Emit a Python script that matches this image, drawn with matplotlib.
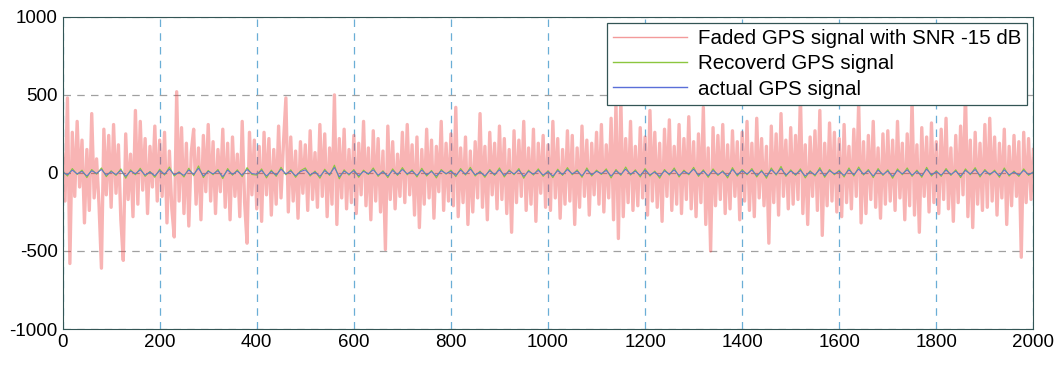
import numpy as np
import matplotlib.pyplot as plt

# sample index (at a coarse step)
x_faded = np.arange(0, 2001, 5)
x_clean = np.arange(0, 2001, 10)

faded = [
    120, -180, 480, -580, 260, -150, 330, -90, 210, -320, 150, -240, 380, -160, 90, -200, -610, 280, -140, 240,
    -220, 310, -130, 180, -300, -560, 250, -170, 120, -280, 400, -200, 330, -110, 220, -260, 170, -90, 300, -180,
    210, -150, 260, -320, 140, -230, -410, 520, -180, 290, -260, 190, -340, 130, 280, -200, 160, -300, 240, -120,
    310, -180, 200, -260, 150, -120, 280, -220, 190, -300, 230, -150, 120, -280, 330, -190, -450, 260, -140, 210,
    -230, 170, -310, 260, -140, 220, -270, 150, -200, 300, -160, 190, 480, -250, 230, -180, 140, -290, 200, -130,
    180, -240, 270, -170, 130, -220, 310, -150, 250, -280, 160, -200, 500, -330, 220, -160, 280, -230, 150, -190,
    240, -260, 190, -140, 330, -210, 160, -300, 270, -180, 220, -250, 140, -490, 300, -170, 200, -230, 120, -150,
    260, -190, 310, -140, 180, -270, 230, -350, 150, -200, 280, -160, 210, -290, 170, -120, 330, -240, 190, -180,
    250, -210, 420, -280, 160, -190, 230, -330, 140, -250, 200, -160, 380, -220, 170, -300, 260, -140, 190, -230,
    300, -170, 220, -260, 150, -380, 270, -190, 210, -150, 330, -240, 160, -200, 280, -310, 190, -130, 240, -220,
    180, -240, 330, -160, 220, -290, 150, -200, 270, -180, 240, -330, 160, -220, 300, -150, 210, -270, 190, -140,
    260, -200, 310, -250, 180, -160, 350, -300, 450, -420, 480, -280, 220, -190, 330, -240, 170, -210, 290, -160,
    230, -270, 400, -180, 260, -220, 190, -310, 280, -150, 340, -240, 170, -200, 310, -260, 220, -170, 360, -230,
    200, -280, 250, -190, 420, -330, 160, -500, 290, -210, 240, -170, 310, -260, 180, -230, 270, -150, 200, -300,
    260, -180, 330, -240, 190, -280, 350, -160, 220, -210, 170, -450, 300, -190, 250, -270, 380, -150, 210, -230,
    290, -200, 240, -170, 500, -260, 180, -330, 230, -150, 270, -240, 400, -400, 190, -210, 320, -180, 260, -250,
    220, -280, 310, -190, 170, -230, 280, -150, 450, -320, 200, -260, 240, -170, 330, -220, 160, -290, 250, -200,
    270, -180, 210, -240, 330, -160, 190, -300, 250, -210, 470, -270, 180, -380, 290, -150, 230, -250, 320, -190,
    200, -260, 280, -170, 350, -230, 160, -310, 240, -190, 300, -140, 520, -280, 210, -350, 260, -200, 190, -240,
    310, -220, 350, -180, 230, -270, 190, -160, 280, -330, 170, -210, 240, -150, 200, -540, 260, -190, 220, -170,
    150,
]

recovered = [
    12, -20, 28, -10, 18, -30, 22, -8, 32, -24, 14, -16, 26, -34, 20, -12, 30, -22, 10, -28,
    24, -14, 38, -20, 8, -26, 30, -18, 45, -30, 16, -12, 22, -36, 28, -15, 20, -24, 34, -10,
    -14, 26, -32, 18, -22, 36, -12, 20, -28, 14, 32, -20, 12, -34, 24, -16, 50, -38, 20, -14,
    22, -28, 18, -10, 32, -22, 14, -30, 26, -16, 34, -12, 20, -26, 30, -20, 16, -32, 22, -8,
    18, -24, 28, -14, 36, -20, 12, -28, 22, -16, 32, -26, 20, -12, 28, -34, 18, -14, 26, -22,
    14, -30, 24, -16, 34, -12, 20, -28, 32, -20, 18, -10, 26, -32, 22, -16, 38, -14, 20, -26,
    28, -20, 12, -34, 22, -14, 32, -26, 18, -12, 36, -22, 20, -28, 26, -16, 14, -32, 34, -20,
    22, -12, 28, -26, 18, -34, 32, -14, 42, -22, 20, -16, 26, -32, 14, -20, 34, -28, 22, -12,
    18, -26, 32, -20, 38, -14, 22, -30, 28, -16, 20, -34, 26, -12, 32, -22, 18, -28, 36, -20,
    14, -22, 28, -16, 20, -30, 26, -12, 34, -26, 22, -14, 18, -28, 32, -20, 12, -22, 26, -16,
    8,
]

actual = [
    5, -12, 18, -6, 10, -20, 14, -3, 22, -15, 8, -10, 16, -22, 12, -5, 20, -14, 6, -18,
    15, -8, 25, -12, 4, -16, 19, -10, 30, -20, 10, -6, 14, -24, 18, -9, 12, -15, 22, -4,
    -8, 16, -20, 10, -14, 24, -6, 12, -18, 8, 20, -12, 6, -22, 15, -10, 35, -25, 12, -8,
    14, -18, 10, -5, 20, -14, 8, -20, 16, -10, 22, -6, 12, -16, 18, -12, 9, -20, 14, -4,
    10, -15, 18, -8, 24, -12, 6, -18, 14, -10, 20, -16, 12, -6, 18, -22, 10, -8, 16, -14,
    8, -20, 15, -10, 22, -6, 12, -18, 20, -12, 10, -4, 16, -20, 14, -10, 24, -8, 12, -16,
    18, -12, 6, -22, 14, -8, 20, -16, 10, -6, 24, -14, 12, -18, 16, -10, 8, -20, 22, -12,
    14, -6, 18, -16, 10, -22, 20, -8, 28, -14, 12, -10, 16, -20, 8, -12, 22, -18, 14, -6,
    10, -16, 20, -12, 25, -8, 14, -20, 18, -10, 12, -22, 16, -6, 20, -14, 10, -18, 24, -12,
    8, -14, 18, -10, 12, -20, 16, -6, 22, -16, 14, -8, 10, -18, 20, -12, 6, -14, 16, -10,
    4,
]

labels = ["Faded GPS signal with SNR -15 dB", "Recoverd GPS signal", "actual GPS signal"]
x_ticks = list(range(0, 2001, 200))
y_ticks = [-1000, -500, 0, 500, 1000]

plt.rcParams['font.family'] = ['Liberation Sans', 'DejaVu Sans']
plt.rcParams['axes.unicode_minus'] = False

fig = plt.figure(figsize=(10.61, 3.66), dpi=100)
ax = fig.add_axes([0.059, 0.101, 0.915, 0.853])

ax.plot(x_faded, faded, color='#ee3b3b', alpha=0.38, linewidth=2.4, label=labels[0])
ax.plot(x_clean, recovered, color='#8cc63f', linewidth=0.8, label=labels[1])
ax.plot(x_clean, actual, color='#5a6fd8', linewidth=0.7, label=labels[2])

ax.set_xlim(0, 2000)
ax.set_ylim(-1000, 1000)
ax.set_xticks(x_ticks)
ax.set_yticks(y_ticks)
ax.tick_params(direction='in', labelsize=13.5, length=0)
ax.xaxis.grid(True, linestyle=(0, (6, 5)), color='#6aaed6', linewidth=0.9)
ax.yaxis.grid(True, linestyle=(0, (6, 5)), color='#a0a0a0', linewidth=0.9)
for s in ax.spines.values():
    s.set_color('#335555')

leg = ax.legend(loc='upper right', fontsize=14.8, handlelength=3.6, handletextpad=0.5,
                fancybox=False, framealpha=1, edgecolor='#335555',
                borderaxespad=0.3, labelspacing=0.3, borderpad=0.3)
leg.get_frame().set_linewidth(0.9)
for line in leg.get_lines():
    line.set_linewidth(1.0)
leg.get_lines()[0].set_color('#f39a9a')
leg.get_lines()[0].set_alpha(1)

plt.savefig('out.png')
